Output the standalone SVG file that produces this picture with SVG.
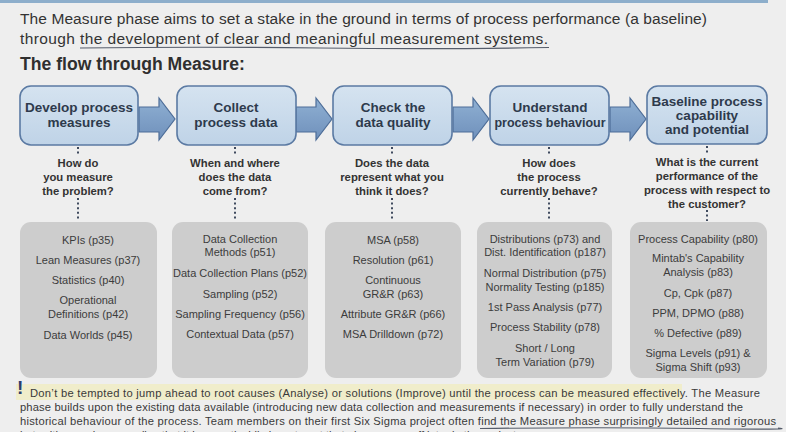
<svg xmlns="http://www.w3.org/2000/svg" width="786" height="432" viewBox="0 0 786 432">
<defs>
<linearGradient id="boxg" x1="0" y1="0" x2="0" y2="1">
<stop offset="0" stop-color="#d5e3f0"/>
<stop offset="1" stop-color="#bfd3e7"/>
</linearGradient>
<linearGradient id="arrg" x1="0" y1="0" x2="0" y2="1">
<stop offset="0" stop-color="#8fb0d3"/>
<stop offset="1" stop-color="#6f90bb"/>
</linearGradient>
<style>
.bg{fill:#eeeeee}
.box{fill:url(#boxg);stroke:#5b7aa3;stroke-width:1.6}
.arr{fill:url(#arrg);stroke:#4d6d98;stroke-width:1.2}
.gbox{fill:#cdcdcd}
.dot{stroke:#3f4a5e;stroke-width:2;stroke-dasharray:2 2.6;fill:none}
.ttl{font-family:"Liberation Sans",Arial,sans-serif;font-weight:bold;font-size:13.5px;fill:#2e3a4c;text-anchor:middle}
.q{font-family:"Liberation Sans",Arial,sans-serif;font-weight:bold;font-size:11.3px;fill:#333;text-anchor:middle}
.it{font-family:"Liberation Sans",Arial,sans-serif;font-size:11px;fill:#3c3c3c;text-anchor:middle}
.intro{font-family:"Liberation Sans",Arial,sans-serif;font-size:15.5px;fill:#333}
.body{font-family:"Liberation Sans",Arial,sans-serif;font-size:11.2px;fill:#3a3a3a}
.ul{stroke:#555c6a;stroke-width:1.1;fill:none}
</style>
</defs>
<rect class="bg" x="0" y="0" width="786" height="432"/>
<rect x="0" y="0" width="768" height="3" fill="#8daecb"/>

<g id="intro">
<text class="intro" x="20" y="24" textLength="687" lengthAdjust="spacing">The Measure phase aims to set a stake in the ground in terms of process performance (a baseline)</text>
<text class="intro" x="20" y="44" textLength="528" lengthAdjust="spacing">through the development of clear and meaningful measurement systems.</text>
<path class="ul" d="M80 48 Q200 46.5 320 48 T549 47.5"/>
<text x="20" y="70" font-family="Liberation Sans,Arial,sans-serif" font-weight="bold" font-size="17.6" fill="#2f2f2f">The flow through Measure:</text>
</g>

<g id="connectors">
<path class="arr" d="M139 107 H159 V98 L175 119 L159 140 V132 H139 Z"/>
<path class="arr" d="M296 107 H316 V98 L332 119 L316 140 V132 H296 Z"/>
<path class="arr" d="M453 107 H473 V98 L489 119 L473 140 V132 H453 Z"/>
<path class="arr" d="M610 107 H630 V98 L646 119 L630 140 V132 H610 Z"/>
<line class="dot" x1="78" y1="147" x2="78" y2="154"/>
<line class="dot" x1="78" y1="198" x2="78" y2="221"/>
<line class="dot" x1="235" y1="147" x2="235" y2="154"/>
<line class="dot" x1="235" y1="198" x2="235" y2="221"/>
<line class="dot" x1="392" y1="147" x2="392" y2="154"/>
<line class="dot" x1="392" y1="198" x2="392" y2="221"/>
<line class="dot" x1="549" y1="147" x2="549" y2="154"/>
<line class="dot" x1="549" y1="198" x2="549" y2="221"/>
<line class="dot" x1="707" y1="146" x2="707" y2="154"/>
<line class="dot" x1="707" y1="210" x2="707" y2="221"/>
</g>

<g id="n1">
<rect class="box" x="20" y="86" width="118" height="59" rx="11"/>
<text class="ttl" x="79" y="112">Develop process</text>
<text class="ttl" x="79" y="127">measures</text>
<text class="q" x="78" y="167">How do</text>
<text class="q" x="78" y="181">you measure</text>
<text class="q" x="78" y="195">the problem?</text>
<rect class="gbox" x="20" y="222" width="137" height="156" rx="11"/>
<text class="it" x="88" y="244">KPIs (p35)</text>
<text class="it" x="88" y="264">Lean Measures (p37)</text>
<text class="it" x="88" y="284">Statistics (p40)</text>
<text class="it" x="88" y="304">Operational</text>
<text class="it" x="88" y="318">Definitions (p42)</text>
<text class="it" x="88" y="339">Data Worlds (p45)</text>
</g>

<g id="n2">
<rect class="box" x="177" y="86" width="119" height="59" rx="11"/>
<text class="ttl" x="236" y="112">Collect</text>
<text class="ttl" x="236" y="127">process data</text>
<text class="q" x="235" y="167">When and where</text>
<text class="q" x="235" y="181">does the data</text>
<text class="q" x="235" y="195">come from?</text>
<rect class="gbox" x="172" y="222" width="136" height="156" rx="11"/>
<text class="it" x="240" y="243">Data Collection</text>
<text class="it" x="240" y="256">Methods (p51)</text>
<text class="it" x="240" y="277">Data Collection Plans (p52)</text>
<text class="it" x="240" y="298">Sampling (p52)</text>
<text class="it" x="240" y="318">Sampling Frequency (p56)</text>
<text class="it" x="240" y="338">Contextual Data (p57)</text>
</g>

<g id="n3">
<rect class="box" x="333" y="86" width="119" height="59" rx="11"/>
<text class="ttl" x="393" y="112">Check the</text>
<text class="ttl" x="393" y="127">data quality</text>
<text class="q" x="392" y="167">Does the data</text>
<text class="q" x="392" y="181">represent what you</text>
<text class="q" x="392" y="195">think it does?</text>
<rect class="gbox" x="325" y="222" width="136" height="156" rx="11"/>
<text class="it" x="393" y="244">MSA (p58)</text>
<text class="it" x="393" y="264">Resolution (p61)</text>
<text class="it" x="393" y="284">Continuous</text>
<text class="it" x="393" y="298">GR&amp;R (p63)</text>
<text class="it" x="393" y="318">Attribute GR&amp;R (p66)</text>
<text class="it" x="393" y="338">MSA Drilldown (p72)</text>
</g>

<g id="n4">
<rect class="box" x="490" y="86" width="119" height="59" rx="11"/>
<text class="ttl" x="550" y="112">Understand</text>
<text class="ttl" x="550" y="127" textLength="111" lengthAdjust="spacingAndGlyphs">process behaviour</text>
<text class="q" x="549" y="167">How does</text>
<text class="q" x="549" y="181">the process</text>
<text class="q" x="549" y="195">currently behave?</text>
<rect class="gbox" x="477" y="222" width="135" height="156" rx="11"/>
<text class="it" x="545" y="243">Distributions (p73) and</text>
<text class="it" x="545" y="256">Dist. Identification (p187)</text>
<text class="it" x="545" y="277">Normal Distribution (p75)</text>
<text class="it" x="545" y="291">Normality Testing (p185)</text>
<text class="it" x="545" y="311">1st Pass Analysis (p77)</text>
<text class="it" x="545" y="331">Process Stability (p78)</text>
<text class="it" x="545" y="352">Short / Long</text>
<text class="it" x="545" y="366">Term Variation (p79)</text>
</g>

<g id="n5">
<rect class="box" x="647" y="86" width="120" height="58" rx="11"/>
<text class="ttl" x="707" y="106">Baseline process</text>
<text class="ttl" x="707" y="120">capability</text>
<text class="ttl" x="707" y="134">and potential</text>
<text class="q" x="707" y="166">What is the current</text>
<text class="q" x="707" y="180">performance of the</text>
<text class="q" x="707" y="194">process with respect to</text>
<text class="q" x="707" y="208">the customer?</text>
<rect class="gbox" x="630" y="222" width="137" height="156" rx="11"/>
<text class="it" x="698" y="243">Process Capability (p80)</text>
<text class="it" x="698" y="262">Mintab's Capability</text>
<text class="it" x="698" y="276">Analysis (p83)</text>
<text class="it" x="698" y="297">Cp, Cpk (p87)</text>
<text class="it" x="698" y="317">PPM, DPMO (p88)</text>
<text class="it" x="698" y="337">% Defective (p89)</text>
<text class="it" x="698" y="357">Sigma Levels (p91) &amp;</text>
<text class="it" x="698" y="371">Sigma Shift (p93)</text>
</g>

<g id="note">
<rect x="16" y="384" width="666" height="16" fill="#f0ecc4" opacity="0.85"/>
<text x="17" y="394" font-family="Liberation Sans,Arial,sans-serif" font-weight="bold" font-size="19" fill="#2b3b6b">!</text>
<text class="body" x="30" y="397" textLength="730" lengthAdjust="spacing">Don’t be tempted to jump ahead to root causes (Analyse) or solutions (Improve) until the process can be measured effectively.  The Measure</text>
<text class="body" x="20" y="411" textLength="723" lengthAdjust="spacing">phase builds upon the existing data available (introducing new data collection and measurements if necessary) in order to fully understand the</text>
<text class="body" x="20" y="425" textLength="756" lengthAdjust="spacing">historical behaviour of the process.  Team members on their first Six Sigma project often find the Measure phase surprisingly detailed and rigorous</text>
<path class="ul" d="M480 428.5 Q600 427 700 428.5 T778 428"/>
<text class="body" x="20" y="439">but, with experience, realise that it is a worthwhile investment that always pays off later in the project.</text>
</g>
</svg>
